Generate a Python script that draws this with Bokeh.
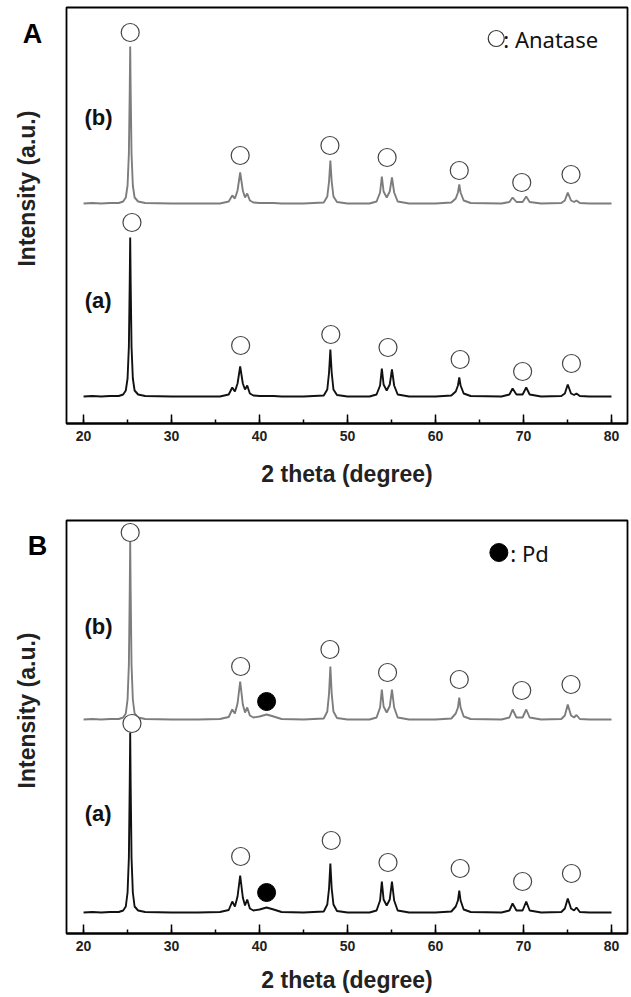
import math
from bokeh.plotting import figure
from bokeh.models import Label, SingleIntervalTicker, Range1d
from bokeh.layouts import column, row
from bokeh.core.properties import value
from bokeh.embed import file_html
from bokeh.resources import INLINE

# ---------------- data ----------------
two_theta = [20.0, 21.0, 22.0, 23.0, 24.0, 24.5, 24.8,
             25.0, 25.15, 25.25, 25.3, 25.35, 25.45, 25.6, 25.8, 26.2, 27.0,
             30.0, 33.0, 35.5, 36.5,
             36.9, 37.2, 37.5, 37.8, 38.1, 38.35, 38.6, 38.9, 39.3,
             40.0, 40.8, 41.6, 42.5, 45.0,
             47.3, 47.7, 47.9, 48.05, 48.2, 48.4, 48.8, 50.0,
             52.5, 53.3, 53.7, 53.9, 54.1, 54.45, 54.8, 55.05, 55.3, 55.7, 57.0,
             60.0, 61.8, 62.3, 62.55, 62.7, 62.85, 63.2, 64.0,
             67.5, 68.4, 68.76, 69.2, 69.9, 70.31, 70.7, 72.0,
             74.3, 74.7, 75.03, 75.4, 75.75, 76.02, 76.4, 77.5, 80.0]

# Panel A, intensity above each pattern's own baseline (a.u.)
A_b = [0, 0.5, 0, 0.5, 0.5, 2, 6,
       18, 50, 115, 157, 115, 50, 18, 6, 2, 0.5,
       0, 0, 0, 2,
       8, 5, 13, 31, 13, 6, 10, 3, 1,
       0.5, 0.5, 0.5, 0, 0,
       1, 7, 22, 43, 22, 7, 1.5, 0,
       0, 2, 11, 27, 12, 6, 12, 26, 11, 2, 0,
       0, 1, 5, 11, 19, 11, 3, 0.5,
       0, 1.5, 6, 1.5, 1.5, 7, 1.5, 0,
       0.5, 3, 11, 3, 1.5, 3, 0.5, 0, 0]
A_a = [0, 0.5, 0, 0.5, 0.5, 2, 6,
       18, 50, 117, 159, 117, 50, 18, 6, 2, 0.5,
       0, 0, 0, 2,
       9, 5, 13, 30, 13, 7, 11, 3, 1,
       0.5, 0.5, 0.5, 0, 0,
       1, 7, 24, 47, 24, 7, 1.5, 0,
       0, 2, 11, 28, 12, 6, 12, 27, 11, 2, 0,
       0, 1, 5, 11, 19, 11, 3, 0.5,
       0, 2, 8, 2, 2, 9, 2, 0,
       0.5, 3, 12, 3, 1.5, 3, 0.5, 0, 0]
# Panel B
B_b = [0, 0.5, 0, 0.5, 0.5, 2, 6,
       20, 55, 130, 179, 130, 55, 20, 6, 2, 0.5,
       0, 0, 0.5, 2.5,
       10, 6, 16, 38, 15, 7, 12, 4, 2,
       3, 5, 3, 0.5, 0,
       1, 8, 26, 53, 26, 8, 1.5, 0,
       0, 2, 12, 30, 13, 7, 13, 30, 12, 2, 0,
       0, 1, 6, 12, 22, 12, 3, 0.5,
       0, 2, 10, 2, 2, 10, 2, 0,
       0.5, 4, 15, 4, 2, 4.5, 0.5, 0, 0]
B_a = [0, 0.5, 0, 0.5, 0.5, 2, 6,
       20, 55, 131, 180, 131, 55, 20, 6, 2, 0.5,
       0, 0, 0.5, 2.5,
       11, 6, 16, 37, 15, 7, 13, 4, 2,
       3, 5, 3, 0.5, 0,
       1, 8, 24, 49, 24, 8, 1.5, 0,
       0, 2, 12, 31, 13, 7, 13, 31, 12, 2, 0,
       0, 1, 6, 12, 22, 12, 3, 0.5,
       0, 2, 9, 2, 2, 11, 2, 0,
       0.5, 4, 14, 4, 2, 5, 0.5, 0, 0]

# vertical offsets of the stacked patterns
A_offsets = {"a": 27, "b": 220}
B_offsets = {"a": 21, "b": 214}

# anatase marker positions (2theta, absolute a.u.)
A_anatase_b_x = [25.3, 37.8, 48.0, 54.5, 62.7, 69.8, 75.4]
A_anatase_b_y = [391, 268, 278, 266, 253, 241, 249]
A_anatase_a_x = [25.5, 37.85, 48.1, 54.6, 62.8, 69.9, 75.45]
A_anatase_a_y = [201, 78, 89, 76, 64, 52, 60]

B_anatase_b_x = [25.3, 37.85, 48.0, 54.55, 62.7, 69.8, 75.4]
B_anatase_b_y = [401, 267, 284, 261, 254, 243, 249]
B_anatase_a_x = [25.5, 37.85, 48.15, 54.6, 62.8, 69.9, 75.45]
B_anatase_a_y = [210, 77, 93, 71, 65, 52, 60]
B_pd_x = [40.8, 40.8]
B_pd_y = [232, 41]

x_ticks = [20, 30, 40, 50, 60, 70, 80]

# ---------------- styling helpers ----------------
GRAY = "#7d7d7d"
BLACK = "#111111"
X0, X1 = 18.06, 81.82
STRIP_W = 64
MAIN_W = 631 - STRIP_W


def make_strip(height, letter, letter_x, letter_y, ylabel_y):
    s = figure(width=STRIP_W, height=height, output_backend="svg", toolbar_location=None,
               x_range=Range1d(0, STRIP_W), y_range=Range1d(height, 0), min_border=0,
               min_border_left=0, min_border_right=0, min_border_top=0, min_border_bottom=0)
    s.axis.visible = False
    s.grid.visible = False
    s.outline_line_color = None
    s.text(x=[letter_x], y=[letter_y], text=[letter], text_font=value("Liberation Sans"),
           text_font_style="bold", text_font_size="27px", text_color="black",
           text_align="center", text_baseline="middle")
    s.text(x=[26], y=[ylabel_y], text=["Intensity (a.u.)"], angle=math.pi / 2,
           text_font=value("Liberation Sans"), text_font_style="bold",
           text_font_size="23px", text_color="#222222",
           text_align="center", text_baseline="middle")
    return s


def make_panel(height, top, bottom, y_max, pat_b, pat_a, offs, lbl_b_y, lbl_a_y, title_standoff):
    p = figure(width=MAIN_W, height=height, output_backend="svg", toolbar_location=None,
               x_range=Range1d(X0, X1), y_range=Range1d(0, y_max),
               min_border_left=2, min_border_right=4, min_border_top=top,
               min_border_bottom=bottom, background_fill_color="white",
               border_fill_color="white")
    p.grid.visible = False
    p.yaxis.visible = False
    p.outline_line_color = "black"
    p.outline_line_width = 1.8

    xa = p.xaxis[0]
    xa.ticker = SingleIntervalTicker(interval=10, num_minor_ticks=2)
    xa.major_tick_in = 9
    xa.major_tick_out = 0
    xa.minor_tick_in = 4
    xa.minor_tick_out = 0
    xa.major_tick_line_width = 1.5
    xa.minor_tick_line_width = 1.5
    xa.major_tick_line_color = "black"
    xa.minor_tick_line_color = "black"
    xa.axis_line_width = 1.8
    xa.axis_line_color = "black"
    xa.major_label_text_font = "Liberation Sans"
    xa.major_label_text_font_style = "bold"
    xa.major_label_text_font_size = "14px"
    xa.major_label_text_color = "#222222"
    xa.major_label_standoff = 7
    xa.axis_label = "2 theta (degree)"
    xa.axis_label_text_font = "Liberation Sans"
    xa.axis_label_text_font_style = "bold"
    xa.axis_label_text_font_size = "23px"
    xa.axis_label_text_color = "#222222"
    xa.axis_label_standoff = title_standoff

    yb = [v + offs["b"] for v in pat_b]
    yaa = [v + offs["a"] for v in pat_a]
    p.line(two_theta, yb, line_color=GRAY, line_width=1.9)
    p.line(two_theta, yaa, line_color=BLACK, line_width=1.9)

    p.add_layout(Label(x=21.7, y=lbl_b_y, text="(b)", text_font="Liberation Sans",
                       text_font_style="bold", text_font_size="22px", text_color="#111111",
                       text_align="center", text_baseline="middle"))
    p.add_layout(Label(x=21.65, y=lbl_a_y, text="(a)", text_font="Liberation Sans",
                       text_font_style="bold", text_font_size="22px", text_color="#111111",
                       text_align="center", text_baseline="middle"))
    return p


# ---------------- panel A ----------------
HA = 510
pA = make_panel(HA, 7, 87, 416, A_b, A_a, A_offsets, 306, 123, 17)
pA.scatter(A_anatase_b_x, A_anatase_b_y, marker="circle", size=18, fill_color="white",
           line_color="#444444", line_width=1.2)
pA.scatter(A_anatase_a_x, A_anatase_a_y, marker="circle", size=18, fill_color="white",
           line_color="#444444", line_width=1.2)
pA.scatter([66.9], [385], marker="circle", size=16, fill_color="white",
           line_color="#333333", line_width=1.2)
pA.add_layout(Label(x=67.7, y=385, text=": Anatase", text_font="Noto Sans",
                    text_font_size="22px", text_color="#111111",
                    text_align="left", text_baseline="middle"))
sA = make_strip(HA, "A", 32, 33, 222)

# ---------------- panel B ----------------
HB = 997 - HA
pB = make_panel(HB, 10, 64, 413, B_b, B_a, B_offsets, 307, 120, 13)
pB.scatter(B_anatase_b_x, B_anatase_b_y, marker="circle", size=18, fill_color="white",
           line_color="#444444", line_width=1.2)
pB.scatter(B_anatase_a_x, B_anatase_a_y, marker="circle", size=18, fill_color="white",
           line_color="#444444", line_width=1.2)
pB.scatter(B_pd_x, B_pd_y, marker="circle", size=18, fill_color="black",
           line_color="black", line_width=1)
pB.scatter([67.2], [381], marker="circle", size=18, fill_color="black",
           line_color="black", line_width=1)
pB.add_layout(Label(x=68.5, y=381, text=": Pd", text_font="Noto Sans",
                    text_font_size="22px", text_color="#111111",
                    text_align="left", text_baseline="middle"))
sB = make_strip(HB, "B", 37, 30, 224)

layout = column(row(sA, pA, spacing=0), row(sB, pB, spacing=0), spacing=0)
open("out.html", "w").write(file_html(layout, INLINE))
